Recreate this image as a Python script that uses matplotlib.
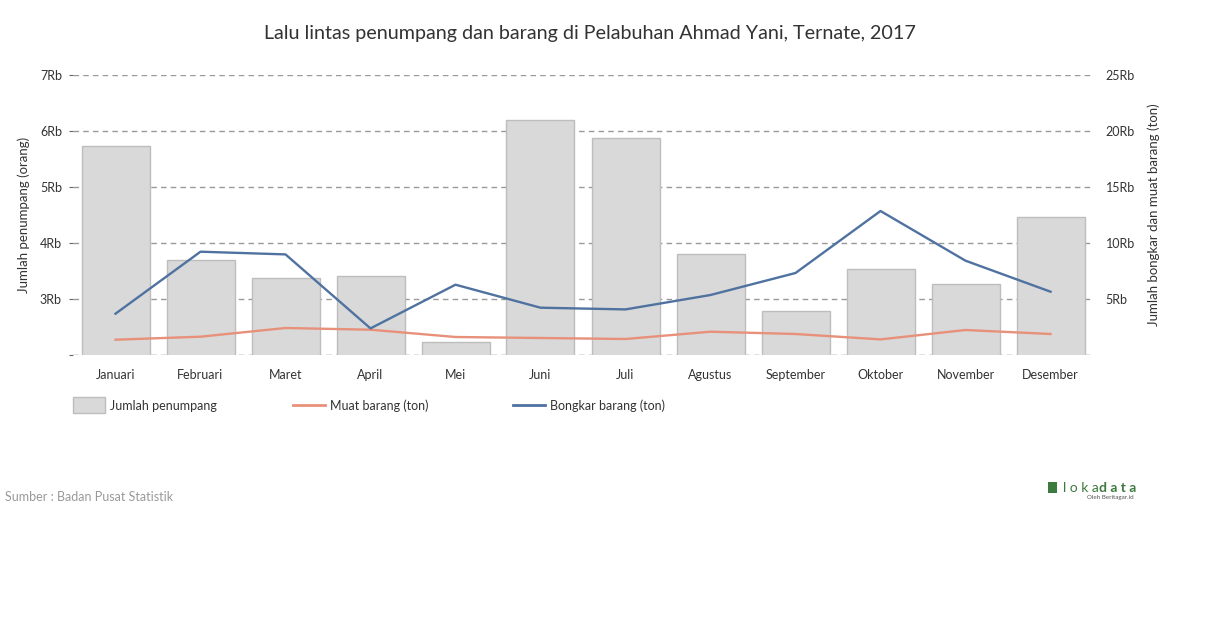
import matplotlib
matplotlib.use("Agg")
import matplotlib.pyplot as plt
from matplotlib.patches import Rectangle
from matplotlib.lines import Line2D
from matplotlib.ticker import FuncFormatter

plt.rcParams['font.family'] = ['Lato', 'DejaVu Sans']

months = ["Januari", "Februari", "Maret", "April", "Mei", "Juni", "Juli",
          "Agustus", "September", "Oktober", "November", "Desember"]
penumpang = [5732, 3696, 3375, 3411, 2232, 6196, 5875, 3804, 2786, 3536, 3268, 4464]
muat = [1366, 1634, 2411, 2259, 1607, 1518, 1429, 2080, 1875, 1393, 2232, 1875]
bongkar = [3688, 9223, 8982, 2375, 6277, 4223, 4071, 5357, 7321, 12857, 8420, 5652]

left_ticks = [2000, 3000, 4000, 5000, 6000, 7000]
right_ticks = [0, 5000, 10000, 15000, 20000, 25000]

W, H = 1210, 628
fig = plt.figure(figsize=(W / 100, H / 100), dpi=100)
ax = fig.add_axes([73 / W, 1 - 355 / H, (1093 - 73) / W, (355 - 75) / H])
ax2 = ax.twinx()

x = list(range(len(months)))
bar_c = "#d9d9d9"
bar_e = "#bdbdbd"
blue = "#4f72a0"
orange = "#e8917a"
txt = "#333333"

ax.bar(x, penumpang, width=0.8, color=bar_c, edgecolor=bar_e, linewidth=1, zorder=2)
ax.set_ylim(2000, 7000)
ax.set_xlim(-0.5, 11.5)
ax2.set_ylim(0, 25000)
ax2.plot(x, muat, color=orange, lw=1.7, zorder=3)
ax2.plot(x, bongkar, color=blue, lw=1.7, zorder=4)

ax.set_yticks(left_ticks)
ax.yaxis.set_major_formatter(FuncFormatter(lambda v, p: "" if v == 2000 else f"{int(v/1000)}Rb"))
ax2.set_yticks(right_ticks)
ax2.yaxis.set_major_formatter(FuncFormatter(lambda v, p: "" if v == 0 else f"{int(v/1000)}Rb"))

for v in left_ticks:
    ax.axhline(v, color="#999999" if v != 2000 else "#666666", lw=1,
               ls=(0, (4, 3)), zorder=1)

for a in (ax, ax2):
    for s in a.spines.values():
        s.set_visible(False)
ax.tick_params(axis='y', length=3, color="#666666", labelsize=9, labelcolor=txt, pad=5)
ax2.tick_params(axis='y', length=0, labelsize=9, labelcolor=txt, pad=9)
ax.set_xticks(x)
ax.set_xticklabels(months)
ax.tick_params(axis='x', length=0, labelsize=9, labelcolor=txt, pad=10)

ax.set_ylabel("Jumlah penumpang (orang)", fontsize=9.5, color=txt)
ax2.set_ylabel("Jumlah bongkar dan muat barang (ton)", fontsize=9.5, color=txt, rotation=90)
ax.yaxis.set_label_coords(-43 / 1020, 0.5)
ax2.yaxis.set_label_coords(1 + 54 / 1020, 0.5)

fig.text(590 / W, 1 - 33 / H, "Lalu lintas penumpang dan barang di Pelabuhan Ahmad Yani, Ternate, 2017",
         ha="center", va="center", fontsize=14.2, color=txt)

# legend
fig.add_artist(Rectangle((73 / W, 1 - 413 / H), 32 / W, 16 / H, transform=fig.transFigure,
                         facecolor=bar_c, edgecolor=bar_e, lw=1))
fig.text(110 / W, 1 - 406 / H, "Jumlah penumpang", fontsize=9, color=txt, va="center")
fig.add_artist(Line2D([293 / W, 325 / W], [1 - 405 / H] * 2, transform=fig.transFigure,
                      color=orange, lw=2))
fig.text(330 / W, 1 - 406 / H, "Muat barang (ton)", fontsize=9, color=txt, va="center")
fig.add_artist(Line2D([513 / W, 545 / W], [1 - 405 / H] * 2, transform=fig.transFigure,
                      color=blue, lw=2))
fig.text(550 / W, 1 - 406 / H, "Bongkar barang (ton)", fontsize=9, color=txt, va="center")

fig.text(5 / W, 1 - 497 / H, "Sumber : Badan Pusat Statistik", fontsize=9, color="#999999",
         va="center")
fig.text(1063 / W, 1 - 488 / H, "l o k a", fontsize=10, color="#3d7a3d", ha="left",
         va="center")
fig.text(1099 / W, 1 - 488 / H, "d a t a", fontsize=10, color="#3d7a3d", ha="left",
         va="center", fontweight="bold")
fig.add_artist(Rectangle((1048 / W, 1 - 493 / H), 9 / W, 11 / H, transform=fig.transFigure,
                         facecolor="#3d7a3d", edgecolor="none"))
fig.text(1134 / W, 1 - 498 / H, "Oleh Beritagar.id", fontsize=4.5, color="#555555",
         ha="right", va="center")

fig.savefig("out.png", dpi=100, facecolor="white")
